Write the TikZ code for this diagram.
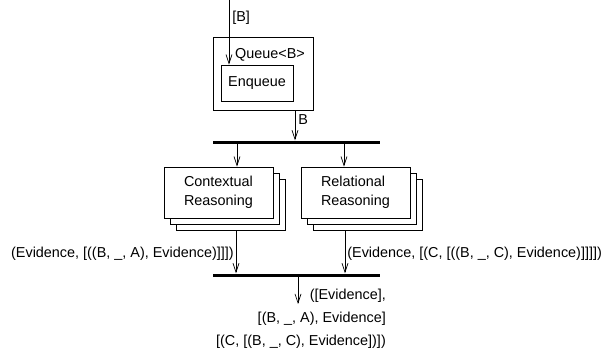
\documentclass[tikz,border=0pt]{standalone}
\usepackage{fontspec}
\setmainfont{Liberation Sans}
\usetikzlibrary{arrows.meta}

\tikzset{
  lbl/.style={font=\fontsize{14.4}{18.5}\selectfont},
  procbox/.style={draw, fill=white, line width=0.7pt, lbl, align=left,
    minimum width=109pt, minimum height=51pt, inner sep=0pt},
  bar/.style={fill=black, minimum width=167pt, minimum height=3pt, inner sep=0pt},
  arr/.style={line width=0.7pt, -{Straight Barb[length=9pt,width=6pt]}},
}

\begin{document}
\begin{tikzpicture}[x=1pt, y=-1pt]
\useasboundingbox (0,0) rectangle (611,348);

% The queue
\node[draw, line width=0.7pt, minimum width=100pt, minimum height=73pt, inner sep=0pt] (queue) at (263,73.5) {};
\node[lbl] (qname) at (270,55) {Queue<B>};
\node[draw, line width=0.7pt, lbl, minimum width=72pt, minimum height=36pt, inner sep=0pt] (enq) at (257,83) {Enqueue};

% The bars
\node[bar] (bar1) at (296.5,142) {};
\node[bar] (bar2) at (296.5,275) {};

% The stacked workers
\foreach \k in {3,2}{
  \node[procbox] (ctx\k) at (218.5+6*\k-6, 192.5+6*\k-6) {};
  \node[procbox] (rel\k) at (355.5+6*\k-6, 192.5+6*\k-6) {};
}
\node[procbox] (ctx) at (218.5,192.5) {Contextual\\Reasoning};
\node[procbox] (rel) at (355.5,192.5) {Relational\\Reasoning};

% Arrows
\coordinate (src) at (229,0);
\draw[arr] (src) -- (src |- enq.north)
  node[lbl, pos=0.28, right, inner sep=3pt] {[B]};
\draw[arr] ([xshift=32pt]queue.south) -- ([xshift=32pt]queue.south |- bar1.north)
  node[lbl, pos=0.3, right, inner sep=3pt] {B};

\draw[arr] ([xshift=18.5pt]ctx.north |- bar1.south) -- ([xshift=18.5pt]ctx.north);
\draw[arr] ([xshift=-11.5pt]rel.north |- bar1.south) -- ([xshift=-11.5pt]rel.north);

\draw[arr] ([xshift=5.5pt]ctx3.south) -- ([xshift=5.5pt]ctx3.south |- bar2.north)
  node[lbl, pos=0.55, left, inner sep=2pt] {(Evidence, [((B, \_, A), Evidence)]]])};
\draw[arr] ([xshift=-22.5pt]rel3.south) -- ([xshift=-22.5pt]rel3.south |- bar2.north)
  node[lbl, pos=0.55, right, inner sep=2pt] {(Evidence, [(C, [((B, \_, C), Evidence)]]]])};

\coordinate (out) at (298,304);
\draw[arr] (bar2.south -| out) -- (out);
\node[font=\fontsize{14.4}{23}\selectfont, align=right, anchor=north east, inner sep=0pt] (res) at (386,289)
  {([Evidence],\\{}[(B, \_, A), Evidence]\\{}[(C, [(B, \_, C), Evidence])])};

\end{tikzpicture}
\end{document}
